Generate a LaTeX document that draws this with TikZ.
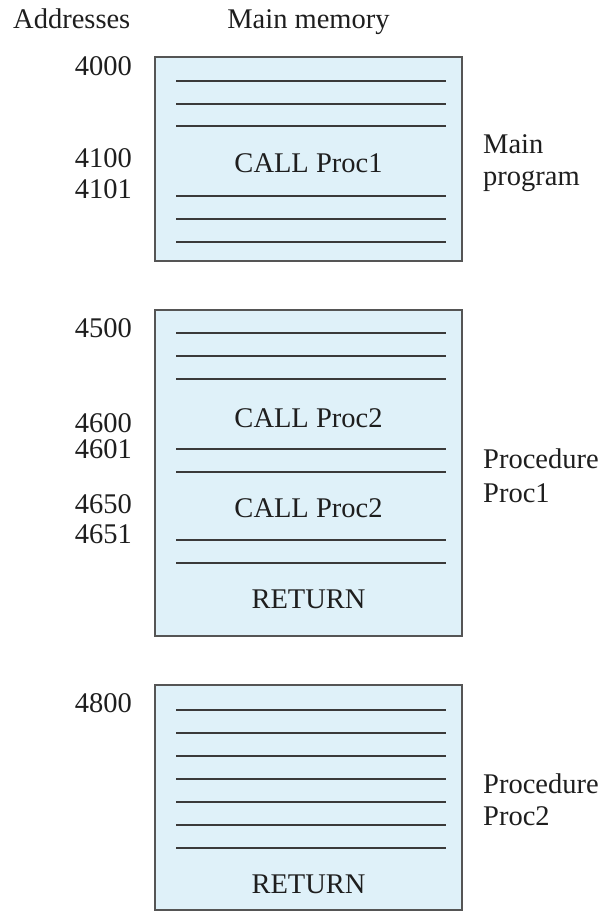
\documentclass[tikz,border=0pt]{standalone}
\usepackage{fontspec}
\setmainfont{Liberation Serif}
\usepackage{xcolor}
\definecolor{memfill}{HTML}{DFF1F9}
\definecolor{memedge}{HTML}{555555}
\definecolor{wordline}{HTML}{3A3A3A}
\definecolor{inktext}{HTML}{1E1E1E}

\begin{document}
\begin{tikzpicture}[x=1pt,y=-1pt,font=\fontsize{28.5}{32}\selectfont,text=inktext,
  addr/.style={anchor=base east,inner sep=0pt},
  cell/.style={anchor=base,inner sep=0pt},
  side/.style={anchor=base west,inner sep=0pt},
  memblock/.style={draw=memedge,fill=memfill,line width=2.8pt},
  word/.style={draw=wordline,line width=2.3pt}]
\useasboundingbox (0,0) rectangle (603,913);
\def\xl{155} \def\xr{462}
% headings
\node[side] (hdraddr) at (13,28) {Addresses};
\node[cell] (hdrmem) at (308.5,28) {Main memory};
% the three blocks of memory
\foreach \ya/\yb in {57/261, 310/636, 685/910}
  \draw[memblock] (\xl,\ya) rectangle (\xr,\yb);
\foreach \y in {81,104,126,196,219,242,333,356,379,449,472,540,563,710,733,756,779,802,825,848}
  \draw[word] (176,\y) -- (446,\y);
% instructions
\foreach \y/\t/\n in {172/CALL Proc1/call1, 427/CALL Proc2/callA, 517/CALL Proc2/callB, 608/RETURN/retA, 893/RETURN/retB}
  \node[cell] (\n) at (308.5,\y) {\t};
% addresses
\foreach \y/\a in {75/4000, 167/4100, 198/4101, 337/4500, 432/4600, 458/4601, 513/4650, 543/4651, 712/4800}
  \node[addr] (a\a) at (132,\y) {\a};
% labels on the right
\foreach \y/\t/\n in {153/Main/mainA, 185/program/mainB, 468/Procedure/pA1, 502/Proc1/pA2, 793/Procedure/pB1, 825/Proc2/pB2}
  \node[side] (\n) at (483,\y) {\t};
\end{tikzpicture}
\end{document}
